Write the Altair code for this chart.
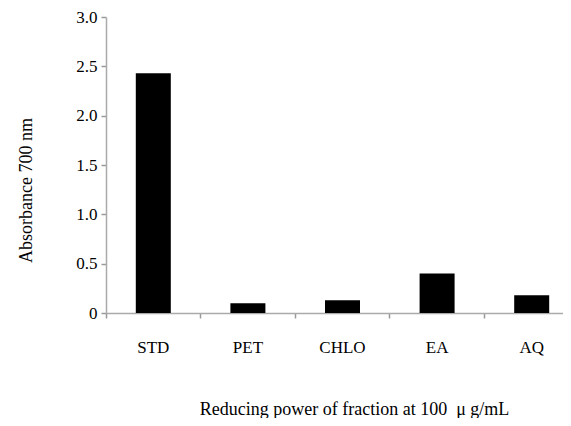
import altair as alt
import pandas as pd

categories = ["STD", "PET", "CHLO", "EA", "AQ"]
absorbance = [2.43, 0.10, 0.13, 0.40, 0.18]

df = pd.DataFrame({"fraction": categories, "absorbance": absorbance})

FONT = "Liberation Serif"

chart = alt.Chart(df).mark_bar(color="black", size=35).encode(
    x=alt.X(
        "fraction:N",
        sort=categories,
        scale=alt.Scale(range=[0, 473], paddingInner=0, paddingOuter=0),
        axis=alt.Axis(
            title="Reducing power of fraction at 100\u00a0\u00a0\u03bc g/mL",
            titleFont=FONT, titleFontSize=18, titleFontWeight="normal",
            titleColor="black",
            titleX=248, titleY=101, titleAnchor="middle", titleBaseline="alphabetic",
            labelFont=FONT, labelFontSize=17, labelColor="black",
            labelAngle=0, labelBaseline="alphabetic", labelPadding=34,
            bandPosition=0, tickSize=5, tickColor="#999999", tickWidth=1.5,
            domainColor="#aaaaaa", domainWidth=1.5,
            grid=False,
        ),
    ),
    y=alt.Y(
        "absorbance:Q",
        scale=alt.Scale(domain=[0, 3.0], nice=False),
        axis=alt.Axis(
            title="Absorbance 700 nm",
            titleFont=FONT, titleFontSize=18, titleFontWeight="normal",
            titleColor="black",
            titleAngle=-90, titleX=-75, titleY=173, titleAlign="center",
            titleBaseline="alphabetic",
            values=[0, 0.5, 1.0, 1.5, 2.0, 2.5, 3.0],
            labelExpr="datum.value == 0 ? '0' : format(datum.value, '.1f')",
            labelFont=FONT, labelFontSize=17, labelColor="black",
            labelPadding=4, tickSize=5, tickColor="#999999", tickWidth=1.5,
            domainColor="#aaaaaa", domainWidth=1.5,
            grid=False,
        ),
    ),
).properties(
    width=457,
    height=296,
    autosize=alt.AutoSizeParams(type="none"),
    padding={"left": 98, "top": 9, "right": 0, "bottom": 105},
).configure_view(stroke=None)

chart.save("out.html", embed_options={"renderer": "svg", "actions": False})
